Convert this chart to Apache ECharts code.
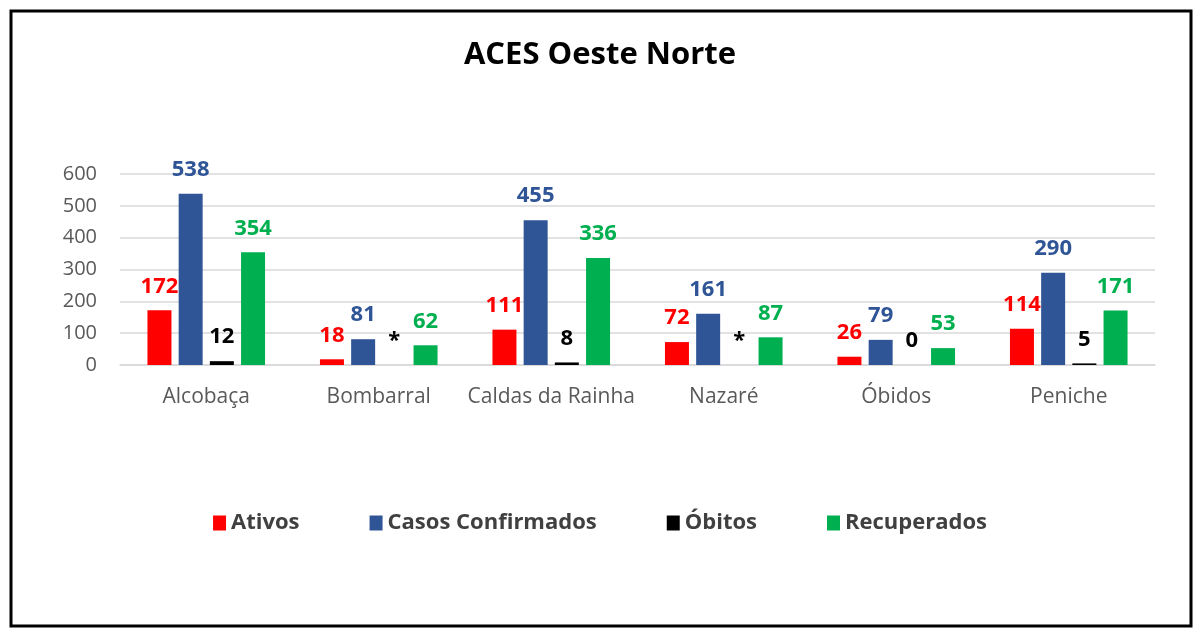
<!DOCTYPE html>
<html>
<head>
<meta charset="utf-8">
<title>ACES Oeste Norte</title>
<script src="https://cdn.jsdelivr.net/npm/echarts@6/dist/echarts.min.js"></script>
<style>
  html, body { margin: 0; padding: 0; background: #fff; }
  #chart { width: 1200px; height: 638px; }
</style>
</head>
<body>
<div id="chart"></div>
<script>
// dados
var categorias = ["Alcobaça", "Bombarral", "Caldas da Rainha", "Nazaré", "Óbidos", "Peniche"];
var ativos = [172, 18, 111, 72, 26, 114];
var confirmados = [538, 81, 455, 161, 79, 290];
var obitos = [12, 0, 8, 0, 0, 5];
var obitosTexto = ["12", "*", "8", "*", "0", "5"]; // * = dado não divulgado
var recuperados = [354, 62, 336, 87, 53, 171];
var yTicks = [0, 100, 200, 300, 400, 500, 600];

var fonte = "'Open Sans', 'DejaVu Sans', sans-serif";

function serie(nome, dados, cor, textos) {
  return {
    name: nome,
    type: "bar",
    data: dados,
    barWidth: 24,
    barGap: "30%",
    barCategoryGap: "32%",
    itemStyle: { color: cor },
    label: {
      show: true,
      position: "top",
      distance: 13,
      color: cor,
      fontFamily: fonte,
      fontWeight: "bold",
      fontSize: 22,
      formatter: function (p) {
        return textos ? textos[p.dataIndex] : p.value;
      },
    },
  };
}

var myChart = echarts.init(document.getElementById("chart"));
var option = {
  backgroundColor: "#fff",
  animation: false,
  title: {
    text: "ACES Oeste Norte",
    left: "center",
    top: 35,
    textStyle: {
      fontFamily: fonte,
      fontWeight: "bold",
      fontSize: 31,
      color: "#000",
    },
  },
  // moldura preta à volta
  graphic: [
    {
      type: "rect",
      shape: { x: 11, y: 11, width: 1180, height: 615 },
      style: { fill: "none", stroke: "#000", lineWidth: 3 },
      silent: true,
    },
  ],
  legend: {
    top: 507,
    left: "center",
    itemGap: 70,
    itemWidth: 13,
    itemHeight: 15,
    icon: "rect",
    textStyle: {
      fontFamily: fonte,
      fontWeight: "bold",
      fontSize: 22,
      color: "#404040",
    },
    data: ["Ativos", "Casos Confirmados", "Óbitos", "Recuperados"],
  },
  grid: {
    left: 120,
    right: 45,
    top: 174,
    bottom: 273,
    containLabel: false,
  },
  xAxis: {
    type: "category",
    data: categorias,
    axisLine: { lineStyle: { color: "#d9d9d9", width: 1.5 } },
    axisTick: { show: false },
    axisLabel: {
      interval: 0,
      margin: 22,
      fontFamily: fonte,
      fontSize: 21,
      color: "#595959",
    },
  },
  yAxis: {
    type: "value",
    min: yTicks[0],
    max: yTicks[yTicks.length - 1],
    interval: 100,
    axisLine: { show: false },
    axisTick: { show: false },
    axisLabel: {
      margin: 23,
      fontFamily: fonte,
      fontSize: 20,
      color: "#595959",
    },
    splitLine: { lineStyle: { color: "#d9d9d9", width: 1.5 } },
  },
  series: [
    serie("Ativos", ativos, "#ff0000"),
    serie("Casos Confirmados", confirmados, "#2f5597"),
    serie("Óbitos", obitos, "#000000", obitosTexto),
    serie("Recuperados", recuperados, "#00b050"),
  ],
};
myChart.setOption(option);
window.onresize = myChart.resize;
</script>
</body>
</html>
